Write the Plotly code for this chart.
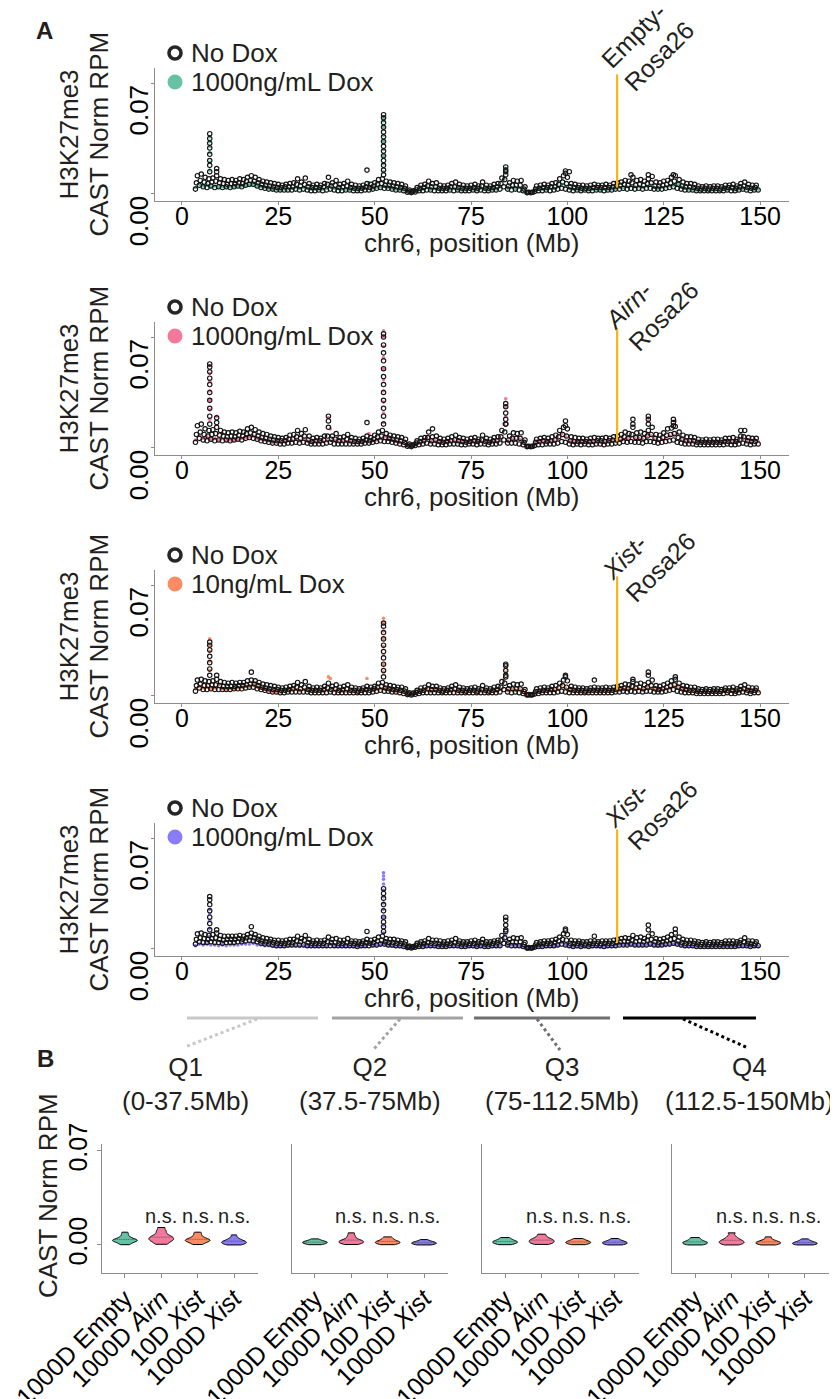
import numpy as np
import plotly.graph_objects as go

PAGE_W, PAGE_H = 838, 1399
OFF = 8  # browser body margin
W, H = PAGE_W - OFF, PAGE_H - OFF
FONT = "Liberation Sans, Arial, sans-serif"
TXT = "#231f20"

# ---------------- DATA (values in units of 1e-4 CAST Norm RPM) ----------------
# No Dox tracks: 0.5-Mb bins from 3.5 Mb, plus in-between bins (1-Mb step from 3.75 Mb)
ND_BIN_START, ND_BIN_STEP = 3.5, 0.5
ND_MID_START, ND_MID_STEP = 3.75, 1.0
# Dox tracks: 1-Mb bins from 3.5 to 149.5 Mb
TR_BIN_START, TR_BIN_STEP = 3.5, 1.0

ND_P1 = [
    30, 115, 55, 125, 45, 105, 40, 95, 50, 100,
    40, 115, 45, 95, 40, 90, 45, 85, 40, 90,
    45, 85, 50, 95, 45, 90, 55, 105, 60, 115,
    60, 105, 50, 90, 40, 80, 35, 75, 30, 70,
    30, 65, 25, 60, 25, 55, 25, 60, 25, 65,
    25, 70, 30, 95, 25, 75, 30, 100, 25, 65,
    20, 55, 20, 60, 25, 55, 20, 65, 25, 105,
    30, 70, 25, 85, 20, 60, 20, 65, 25, 80,
    25, 60, 20, 55, 20, 50, 20, 55, 25, 65,
    25, 60, 30, 70, 35, 90, 40, 95, 35, 80,
    35, 75, 30, 70, 25, 65, 25, 60, 20, 50,
    10, 25, 8, 20, 12, 40, 20, 55, 20, 60,
    25, 80, 25, 65, 20, 70, 20, 55, 20, 50,
    20, 55, 25, 65, 20, 75, 25, 60, 20, 55,
    20, 50, 20, 55, 25, 60, 20, 50, 25, 75,
    20, 55, 20, 50, 25, 60, 25, 65, 30, 100,
    45, 140, 30, 70, 25, 85, 30, 80, 25, 85,
    20, 45, 8, 10, 8, 10, 15, 50, 20, 55,
    20, 60, 25, 55, 20, 65, 25, 70, 30, 95,
    35, 115, 30, 105, 25, 65, 20, 60, 25, 55,
    20, 55, 25, 50, 20, 55, 20, 60, 25, 55,
    25, 55, 20, 60, 25, 55, 25, 65, 30, 70,
    30, 75, 35, 85, 30, 80, 35, 105, 30, 85,
    35, 90, 30, 80, 35, 95, 35, 110, 30, 75,
    30, 70, 30, 80, 35, 85, 40, 105, 45, 115,
    35, 90, 30, 75, 25, 65, 25, 65, 25, 60,
    20, 50, 20, 45, 20, 50, 20, 45, 20, 50,
    20, 50, 20, 45, 20, 55, 25, 55, 20, 60,
    20, 50, 25, 65, 30, 75, 25, 60, 20, 55,
    25, 55, 25,
]
ND_P2 = [
    35, 140, 60, 150, 50, 120, 45, 110, 55, 115,
    45, 130, 50, 110, 45, 100, 50, 95, 45, 100,
    50, 95, 55, 105, 50, 100, 60, 120, 65, 130,
    60, 115, 55, 100, 45, 90, 40, 85, 35, 75,
    30, 70, 30, 65, 25, 60, 25, 65, 30, 80,
    30, 85, 35, 110, 30, 90, 35, 115, 30, 75,
    25, 60, 25, 65, 25, 60, 25, 75, 30, 130,
    35, 75, 25, 90, 25, 65, 25, 70, 25, 85,
    25, 65, 25, 60, 25, 55, 25, 60, 30, 75,
    30, 65, 35, 80, 40, 100, 45, 110, 40, 90,
    40, 80, 35, 75, 30, 70, 25, 65, 20, 55,
    10, 25, 8, 20, 15, 45, 20, 60, 25, 65,
    30, 100, 25, 70, 25, 75, 20, 60, 20, 55,
    20, 60, 25, 70, 25, 80, 25, 65, 20, 60,
    20, 55, 25, 60, 25, 65, 20, 55, 25, 80,
    25, 60, 20, 55, 25, 65, 25, 70, 30, 110,
    50, 150, 30, 75, 30, 95, 30, 90, 25, 95,
    20, 50, 8, 10, 8, 10, 15, 55, 20, 60,
    20, 65, 25, 60, 25, 70, 25, 80, 30, 110,
    40, 130, 35, 120, 25, 70, 20, 65, 25, 60,
    20, 60, 25, 55, 20, 60, 20, 65, 25, 60,
    25, 60, 20, 65, 25, 60, 25, 70, 30, 75,
    30, 85, 40, 100, 35, 90, 40, 130, 35, 95,
    35, 100, 30, 90, 40, 110, 40, 130, 35, 85,
    30, 80, 35, 95, 40, 120, 45, 125, 50, 135,
    35, 100, 30, 80, 25, 70, 25, 70, 25, 65,
    20, 55, 20, 50, 20, 55, 20, 50, 20, 55,
    20, 55, 20, 50, 20, 60, 25, 60, 20, 65,
    20, 55, 25, 75, 30, 110, 25, 65, 20, 60,
    25, 60, 25,
]
ND_P3 = [
    30, 100, 50, 105, 40, 95, 40, 90, 45, 95,
    40, 105, 40, 90, 40, 85, 40, 80, 40, 85,
    45, 80, 45, 85, 45, 85, 50, 95, 55, 100,
    55, 95, 45, 85, 40, 75, 35, 70, 30, 65,
    25, 60, 25, 55, 20, 50, 20, 55, 25, 60,
    25, 65, 25, 85, 25, 70, 25, 90, 25, 60,
    20, 50, 20, 55, 20, 50, 20, 60, 20, 80,
    25, 60, 20, 70, 20, 55, 20, 60, 20, 70,
    20, 55, 20, 50, 20, 45, 20, 50, 20, 60,
    20, 55, 25, 60, 30, 80, 35, 85, 30, 70,
    30, 65, 25, 60, 25, 55, 20, 55, 15, 45,
    8, 20, 6, 18, 10, 35, 15, 50, 20, 55,
    20, 70, 20, 60, 20, 60, 20, 50, 20, 45,
    20, 50, 20, 60, 20, 70, 20, 55, 20, 50,
    20, 45, 20, 50, 20, 55, 20, 45, 20, 65,
    20, 50, 20, 45, 20, 55, 20, 60, 25, 90,
    40, 120, 25, 65, 20, 75, 25, 70, 20, 75,
    15, 40, 6, 8, 6, 8, 12, 45, 15, 50,
    20, 55, 20, 50, 20, 60, 20, 65, 25, 80,
    30, 100, 25, 95, 20, 60, 20, 55, 20, 50,
    20, 50, 20, 45, 20, 50, 20, 55, 20, 50,
    20, 50, 20, 55, 20, 50, 20, 55, 25, 60,
    25, 65, 30, 75, 25, 70, 30, 90, 25, 75,
    30, 80, 25, 70, 30, 85, 30, 100, 25, 65,
    25, 60, 25, 70, 30, 80, 35, 95, 40, 105,
    30, 80, 25, 65, 20, 60, 20, 55, 20, 55,
    15, 45, 15, 40, 15, 45, 15, 40, 15, 45,
    15, 45, 15, 40, 15, 50, 20, 50, 15, 55,
    15, 45, 20, 60, 25, 70, 20, 55, 15, 50,
    20, 50, 20,
]
ND_P4 = [
    30, 95, 45, 100, 40, 90, 40, 85, 45, 90,
    40, 100, 40, 85, 35, 80, 40, 80, 40, 80,
    40, 80, 45, 85, 45, 80, 50, 90, 55, 100,
    50, 90, 45, 80, 35, 70, 30, 65, 30, 60,
    25, 55, 20, 55, 20, 50, 20, 55, 25, 60,
    25, 60, 25, 80, 25, 65, 25, 85, 20, 60,
    20, 50, 20, 55, 20, 50, 20, 55, 20, 75,
    20, 60, 20, 65, 20, 55, 20, 55, 20, 65,
    20, 50, 20, 50, 15, 45, 20, 50, 20, 60,
    20, 55, 25, 60, 25, 75, 30, 80, 30, 65,
    25, 60, 25, 60, 20, 55, 20, 50, 15, 45,
    8, 18, 6, 15, 10, 35, 15, 45, 15, 50,
    20, 65, 20, 55, 20, 55, 15, 50, 15, 45,
    15, 50, 20, 55, 20, 65, 20, 50, 15, 45,
    15, 45, 20, 50, 20, 55, 15, 45, 20, 60,
    15, 45, 15, 45, 20, 50, 20, 55, 20, 85,
    35, 110, 25, 60, 20, 70, 20, 65, 20, 70,
    15, 40, 5, 8, 5, 8, 10, 40, 15, 45,
    15, 50, 20, 50, 20, 55, 20, 60, 25, 75,
    30, 95, 25, 90, 20, 55, 15, 50, 20, 50,
    15, 45, 20, 45, 15, 50, 20, 50, 20, 45,
    20, 50, 15, 50, 20, 50, 20, 55, 20, 60,
    25, 65, 25, 70, 25, 65, 30, 85, 25, 70,
    25, 75, 25, 65, 25, 80, 30, 95, 25, 65,
    25, 60, 25, 65, 30, 75, 30, 90, 35, 100,
    30, 75, 25, 60, 20, 55, 20, 55, 20, 50,
    15, 45, 15, 40, 15, 45, 15, 40, 15, 45,
    15, 45, 15, 40, 15, 50, 15, 50, 15, 50,
    15, 45, 20, 55, 20, 70, 20, 50, 15, 50,
    20, 45, 20,
]

# No Dox in-between bins (3.75, 4.75, ... Mb)
ND_MID_P1 = [
    70, 85, 75, 65, 75, 80, 70, 65, 60, 65,
    65, 70, 65, 80, 85, 80, 70, 60, 55, 50,
    45, 40, 40, 45, 45, 45, 60, 50, 60, 45,
    40, 40, 40, 45, 60, 50, 55, 40, 45, 50,
    40, 35, 35, 35, 45, 40, 50, 60, 65, 55,
    55, 50, 45, 40, 35, 18, 14, 25, 35, 40,
    50, 45, 45, 35, 35, 35, 45, 45, 40, 35,
    35, 35, 40, 35, 50, 35, 35, 40, 45, 65,
    90, 50, 55, 55, 55, 30, 9, 9, 30, 35,
    40, 40, 45, 45, 60, 75, 65, 45, 40, 40,
    35, 35, 35, 40, 40, 40, 40, 40, 45, 50,
    55, 60, 55, 70, 55, 60, 55, 65, 70, 50,
    50, 55, 60, 70, 80, 60, 50, 45, 45, 40,
    35, 30, 35, 30, 35, 35, 30, 35, 40, 40,
    35, 45, 50, 40, 35, 40,
]
ND_MID_P2 = [
    85, 100, 85, 75, 85, 90, 80, 75, 70, 75,
    70, 80, 75, 90, 95, 85, 75, 65, 60, 55,
    50, 45, 45, 45, 55, 55, 70, 60, 75, 50,
    40, 45, 45, 50, 75, 55, 55, 45, 45, 55,
    45, 40, 40, 40, 50, 45, 55, 70, 75, 65,
    60, 55, 50, 45, 35, 18, 14, 30, 40, 45,
    65, 45, 50, 40, 35, 40, 45, 50, 45, 40,
    35, 40, 45, 40, 50, 40, 35, 45, 45, 70,
    100, 50, 60, 60, 60, 35, 9, 9, 35, 40,
    45, 40, 45, 50, 70, 85, 75, 45, 40, 40,
    40, 40, 40, 40, 45, 45, 40, 45, 50, 50,
    55, 70, 60, 85, 65, 65, 60, 75, 85, 60,
    55, 65, 80, 85, 90, 65, 55, 45, 45, 45,
    35, 35, 35, 35, 35, 35, 35, 40, 40, 40,
    40, 50, 70, 45, 40, 40,
]
ND_MID_P3 = [
    65, 75, 65, 65, 70, 70, 65, 60, 60, 60,
    60, 65, 65, 70, 75, 75, 65, 55, 50, 45,
    40, 40, 35, 35, 40, 45, 55, 45, 55, 40,
    35, 35, 35, 40, 50, 40, 45, 35, 40, 45,
    35, 35, 30, 35, 40, 35, 45, 55, 60, 50,
    45, 40, 40, 35, 30, 14, 12, 22, 30, 35,
    45, 40, 40, 35, 30, 35, 40, 45, 35, 35,
    30, 35, 35, 30, 40, 35, 30, 35, 40, 55,
    80, 45, 45, 45, 45, 28, 7, 7, 28, 30,
    35, 35, 40, 40, 50, 65, 55, 40, 35, 35,
    35, 30, 35, 35, 35, 35, 35, 35, 35, 40,
    45, 50, 45, 60, 50, 55, 45, 55, 65, 45,
    40, 45, 55, 65, 70, 55, 45, 40, 35, 35,
    30, 28, 30, 28, 30, 30, 28, 35, 32, 35,
    30, 40, 45, 35, 30, 35,
]
ND_MID_P4 = [
    60, 70, 65, 60, 65, 70, 60, 55, 60, 60,
    60, 65, 60, 70, 75, 70, 60, 50, 45, 45,
    40, 35, 35, 35, 40, 40, 50, 45, 55, 40,
    35, 35, 35, 35, 45, 40, 40, 35, 35, 40,
    35, 35, 30, 35, 40, 35, 40, 50, 55, 45,
    40, 40, 35, 35, 30, 13, 10, 22, 30, 32,
    40, 35, 35, 30, 30, 30, 35, 40, 35, 30,
    30, 33, 35, 30, 40, 30, 30, 35, 38, 55,
    70, 40, 45, 42, 45, 28, 6, 6, 25, 30,
    32, 35, 35, 40, 50, 60, 55, 35, 32, 35,
    30, 30, 30, 35, 32, 33, 35, 35, 35, 40,
    45, 48, 45, 55, 45, 50, 45, 55, 60, 45,
    40, 45, 50, 60, 65, 50, 40, 35, 35, 35,
    30, 28, 30, 28, 30, 30, 28, 32, 32, 32,
    30, 38, 45, 35, 30, 32,
]

TR_P1 = [
    40, 60, 50, 55, 45, 50, 40, 45, 40, 45,
    45, 50, 50, 55, 55, 60, 50, 45, 40, 35,
    30, 30, 25, 30, 30, 35, 40, 35, 40, 35,
    30, 30, 30, 30, 35, 60, 35, 40, 30, 30,
    30, 30, 25, 30, 35, 70, 35, 40, 45, 50,
    40, 35, 30, 30, 25, 15, 12, 20, 25, 30,
    40, 30, 35, 30, 25, 30, 30, 35, 30, 25,
    25, 30, 30, 25, 35, 30, 25, 30, 30, 45,
    90, 35, 40, 35, 40, 25, 10, 10, 25, 30,
    30, 30, 35, 35, 45, 60, 50, 35, 30, 30,
    25, 30, 25, 30, 30, 25, 30, 30, 30, 35,
    40, 40, 45, 50, 45, 45, 40, 50, 55, 40,
    35, 40, 45, 50, 55, 60, 45, 35, 30, 30,
    25, 25, 25, 25, 25, 25, 25, 30, 30, 30,
    25, 30, 35, 35, 30, 30, 30,
]
TR_P2 = [
    50, 80, 60, 70, 55, 60, 50, 90, 45, 50,
    50, 55, 60, 65, 70, 75, 60, 55, 50, 45,
    35, 40, 35, 40, 45, 50, 55, 45, 60, 45,
    35, 40, 35, 40, 45, 120, 50, 55, 45, 40,
    40, 35, 35, 40, 45, 90, 45, 50, 60, 70,
    55, 50, 40, 35, 30, 15, 12, 25, 30, 40,
    60, 40, 45, 40, 35, 40, 40, 45, 40, 35,
    35, 40, 40, 35, 45, 40, 35, 40, 40, 60,
    150, 45, 55, 50, 55, 35, 10, 10, 30, 40,
    40, 40, 45, 45, 60, 90, 70, 45, 40, 40,
    35, 40, 35, 40, 40, 35, 40, 40, 40, 45,
    50, 55, 60, 70, 60, 60, 55, 70, 80, 55,
    45, 55, 60, 75, 80, 90, 60, 45, 40, 40,
    35, 35, 35, 35, 35, 35, 35, 40, 40, 45,
    35, 45, 60, 50, 40, 55, 40,
]
TR_P3 = [
    45, 60, 50, 55, 45, 50, 70, 45, 40, 45,
    45, 50, 55, 60, 60, 70, 55, 50, 40, 35,
    30, 30, 25, 30, 35, 40, 40, 35, 40, 35,
    30, 30, 30, 30, 35, 110, 35, 40, 30, 30,
    30, 30, 25, 30, 35, 50, 35, 40, 45, 50,
    40, 35, 30, 30, 25, 15, 12, 20, 25, 30,
    45, 30, 35, 30, 25, 30, 30, 35, 30, 25,
    25, 30, 35, 25, 35, 30, 25, 30, 30, 40,
    100, 35, 45, 35, 40, 25, 8, 8, 25, 30,
    30, 30, 35, 35, 45, 70, 50, 35, 30, 30,
    25, 30, 25, 30, 30, 25, 30, 30, 30, 35,
    40, 45, 45, 50, 45, 45, 40, 55, 50, 40,
    35, 40, 45, 50, 60, 60, 45, 35, 30, 30,
    25, 25, 25, 25, 25, 25, 25, 30, 30, 30,
    25, 30, 40, 35, 30, 30, 30,
]
TR_P4 = [
    20, 30, 25, 30, 25, 25, 20, 25, 20, 25,
    25, 25, 30, 30, 30, 35, 25, 25, 20, 20,
    15, 15, 15, 15, 15, 20, 20, 15, 20, 15,
    15, 15, 15, 15, 15, 30, 15, 15, 15, 15,
    15, 15, 15, 15, 20, 30, 20, 20, 25, 30,
    20, 15, 15, 15, 10, 5, 5, 10, 10, 15,
    20, 15, 15, 15, 10, 15, 15, 15, 15, 10,
    10, 15, 15, 10, 15, 15, 10, 15, 15, 20,
    60, 20, 25, 20, 20, 10, 5, 5, 10, 15,
    15, 15, 15, 15, 20, 40, 25, 15, 15, 15,
    10, 15, 10, 15, 15, 10, 15, 15, 15, 20,
    30, 25, 25, 25, 20, 20, 20, 25, 25, 20,
    15, 20, 20, 25, 30, 30, 20, 15, 15, 15,
    10, 10, 10, 10, 10, 10, 10, 15, 15, 15,
    10, 15, 20, 20, 15, 15, 15,
]

# extra points in enriched columns: (position Mb, [values 1e-4])
ND_COLS_P1 = [(7.2, [140, 180, 210, 250, 290, 320, 350, 380]),
              (52.3, [120, 150, 180, 210, 240, 270, 300, 330, 360, 390, 420, 450, 480, 500]),
              (84.0, [120, 150, 170]), (99.5, [130, 145]), (100.5, [140]), (116.5, [120]),
              (121.0, [120]), (127.5, [120]), (9.0, [140, 160]), (48.0, [150])]
TR_COLS_P1 = [(7.2, [150, 200, 260, 300, 330, 360]),
              (52.3, [140, 190, 240, 280, 330, 370, 420, 460, 480]),
              (84.0, [140, 160])]
ND_COLS_P2 = [(7.2, [150, 200, 250, 300, 350, 400, 440, 480, 510, 530]),
              (52.3, [150, 200, 250, 300, 350, 400, 450, 500, 550, 600, 650, 700, 720]),
              (84.0, [150, 180, 220, 260, 280]), (9.0, [160, 190]), (38.0, [170, 200]),
              (48.0, [160]), (65.0, [120]), (99.5, [140, 170]), (117.0, [150, 180]),
              (121.0, [150, 180, 200]), (127.5, [140, 160, 180]), (145.0, [110])]
TR_COLS_P2 = [(7.2, [180, 240, 300, 360, 420, 470, 520]),
              (52.3, [160, 220, 290, 360, 430, 500, 570, 640, 700, 740]),
              (84.0, [200, 260, 310]), (9.0, [200]), (38.0, [190]), (121.0, [170]), (128.0, [170])]
ND_COLS_P3 = [(7.2, [130, 170, 210, 250, 290, 320, 340]),
              (52.3, [120, 160, 200, 240, 280, 320, 360, 400, 440, 460]),
              (9.0, [130]), (18.0, [150]), (84.0, [130, 160, 190, 200]), (99.5, [120, 130]),
              (121.0, [130, 150]), (128.0, [120]), (107.0, [100]), (117.0, [105])]
TR_COLS_P3 = [(7.2, [160, 220, 280, 320, 360]),
              (52.3, [150, 200, 260, 310, 360, 410, 460, 490]),
              (38.0, [120]), (84.0, [150]), (48.0, [110])]
ND_COLS_P4 = [(7.2, [120, 160, 200, 240, 280, 310, 330]),
              (52.3, [110, 140, 170, 200, 240, 280, 320, 350, 380]),
              (84.0, [120, 150, 180, 200]), (9.0, [120]), (18.0, [140]), (48.0, [110]),
              (99.5, [115, 125]), (121.0, [120, 150]), (128.0, [125]), (107.0, [80])]
TR_COLS_P4 = [(7.2, [80, 130, 180, 220, 250]),
              (52.3, [100, 150, 200, 250, 290, 330, 370, 410, 440, 460, 480]),
              (84.0, [90, 130])]

TRT_LABELS = ["1000ng/mL Dox", "1000ng/mL Dox", "10ng/mL Dox", "1000ng/mL Dox"]
INSERT_LABELS = ["Empty-<br>Rosa26", "<i>Airn</i>-<br>Rosa26", "<i>Xist</i>-<br>Rosa26", "<i>Xist</i>-<br>Rosa26"]
INSERT_MB = 112.9
INSERT_RANGE = [0.004, 0.0755]
X_TICKS = [0, 25, 50, 75, 100, 125, 150]

# Violin panel (units 1e-4), per quarter: [1000D Empty, 1000D Airn, 10D Xist, 1000D Xist]
VIOLIN_CATS = ["1000D Empty", "1000D <i>Airn</i>", "10D <i>Xist</i>", "1000D <i>Xist</i>"]
Q_LABELS = ["Q1<br>(0-37.5Mb)", "Q2<br>(37.5-75Mb)", "Q3<br>(75-112.5Mb)", "Q4<br>(112.5-150Mb)"]
Q1_VALS = [[2, 10, 18, 24, 28, 32, 35, 38, 42, 48, 55, 65, 80, 95],
           [5, 15, 25, 32, 38, 44, 50, 56, 62, 70, 80, 95, 110, 130],
           [3, 12, 20, 26, 30, 34, 38, 42, 48, 55, 65, 80, 95],
           [0, 5, 10, 14, 18, 22, 26, 30, 36, 44, 55, 75]]
Q2_VALS = [[2, 8, 12, 15, 18, 21, 24, 28, 34, 45],
           [3, 10, 16, 20, 25, 30, 35, 42, 55, 70, 90],
           [2, 8, 13, 17, 21, 25, 30, 38, 48, 60],
           [0, 5, 9, 12, 15, 18, 22, 28, 40]]
Q3_VALS = [[2, 9, 14, 18, 22, 26, 30, 36, 45, 55],
           [4, 12, 18, 24, 30, 36, 42, 50, 62, 80],
           [2, 8, 13, 17, 21, 25, 30, 38, 48],
           [0, 6, 10, 14, 18, 22, 27, 35, 48]]
Q4_VALS = [[0, 5, 10, 14, 18, 22, 27, 34, 45, 55],
           [0, 8, 14, 20, 26, 32, 40, 50, 65, 90],
           [0, 6, 11, 15, 19, 24, 30, 40, 60],
           [0, 4, 8, 11, 14, 18, 24, 32, 45]]
NS_LABEL = "n.s."

COLORS = ["#66c2a5", "#f4789c", "#fc8a62", "#8a7cf8"]
UNIT = 1e-4

# ---------------- LAYOUT HELPERS (page pixel -> paper fraction) ----------------
def fx(p):
    return (p - OFF) / W

def fy(p):
    return 1 - (p - OFF) / H

AX_GREY = "#8c8c8c"
fig = go.Figure()
annotations = []
shapes = []
layout = dict(width=W, height=H, margin=dict(l=0, r=0, t=0, b=0, pad=0, autoexpand=False),
              autosize=False, paper_bgcolor="white", plot_bgcolor="white", showlegend=False,
              font=dict(family=FONT, color=TXT, size=25))

PANEL_TOPS = [68, 322, 570, 823]
PANEL_H = 133
X_L, X_R = 155, 789
Y_RANGE = [-0.0045, 0.0795]

nd_all = [ND_P1, ND_P2, ND_P3, ND_P4]
ndm_all = [ND_MID_P1, ND_MID_P2, ND_MID_P3, ND_MID_P4]
tr_all = [TR_P1, TR_P2, TR_P3, TR_P4]
ndc_all = [ND_COLS_P1, ND_COLS_P2, ND_COLS_P3, ND_COLS_P4]
trc_all = [TR_COLS_P1, TR_COLS_P2, TR_COLS_P3, TR_COLS_P4]
ins_centers = [(648, 45), (651, 305), (648, 556), (650, 804)]


def binned(base, start, step):
    return [start + i * step for i in range(len(base))], [v * UNIT for v in base]


def columns(cols):
    xs, ys = [], []
    for cx, vals in cols:
        xs += [cx] * len(vals)
        ys += [v * UNIT for v in vals]
    return xs, ys


for k in range(4):
    i = k + 1
    top = PANEL_TOPS[k]
    bot = top + PANEL_H
    xt, yt = binned(tr_all[k], TR_BIN_START, TR_BIN_STEP)
    xc, yc = columns(trc_all[k])
    xs_t, ys_t = xt + xc, yt + yc
    xn, yn = binned(nd_all[k], ND_BIN_START, ND_BIN_STEP)
    xm, ym = binned(ndm_all[k], ND_MID_START, ND_MID_STEP)
    xc, yc = columns(ndc_all[k])
    xs_n, ys_n = xn + xm + xc, yn + ym + yc
    fig.add_trace(go.Scatter(x=xs_t, y=ys_t, mode="markers", xaxis=f"x{i}", yaxis=f"y{i}",
                             marker=dict(color=COLORS[k], size=3.6, line=dict(width=0)),
                             hoverinfo="skip"))
    fig.add_trace(go.Scatter(x=xs_n, y=ys_n, mode="markers", xaxis=f"x{i}", yaxis=f"y{i}",
                             marker=dict(symbol="circle-open", color="#141414", size=4.4,
                                         line=dict(width=1.15, color="#141414")),
                             hoverinfo="skip"))
    sfx = "" if i == 1 else str(i)
    layout[f"xaxis{sfx}"] = dict(domain=[fx(X_L), fx(X_R)], range=[-7, 157.5], anchor=f"y{i}",
                                 showline=True, linecolor=AX_GREY, linewidth=1, ticks="outside",
                                 ticklen=3, tickcolor=AX_GREY, tickvals=X_TICKS,
                                 ticklabelstandoff=-10,
                                 tickfont=dict(size=25, color="black", family=FONT),
                                 showgrid=False, zeroline=False, automargin=False)
    layout[f"yaxis{sfx}"] = dict(domain=[fy(bot), fy(top)], range=Y_RANGE, anchor=f"x{i}",
                                 showline=True, linecolor=AX_GREY, linewidth=1, ticks="outside",
                                 ticklen=3, tickcolor=AX_GREY, tickvals=[0, 0.07],
                                 showticklabels=False, showgrid=False, zeroline=False,
                                 automargin=False)
    # y tick labels (rotated, ending at tick)
    for val, txt in [(0.0, "0.00"), (0.07, "0.07")]:
        annotations.append(dict(x=fx(139), y=val, xref="paper", yref=f"y{i}", text=txt,
                                textangle=-90, showarrow=False, xanchor="center", yanchor="top",
                                font=dict(size=26, color="black")))
    # y title two lines
    annotations.append(dict(x=fx(68), y=fy(top + PANEL_H / 2), xref="paper", yref="paper",
                            text="H3K27me3", textangle=-90, showarrow=False,
                            xanchor="center", yanchor="middle", font=dict(size=26, color=TXT)))
    annotations.append(dict(x=fx(98), y=fy(top + PANEL_H / 2), xref="paper", yref="paper",
                            text="CAST Norm RPM", textangle=-90, showarrow=False,
                            xanchor="center", yanchor="middle", font=dict(size=26, color=TXT)))
    # x title
    annotations.append(dict(x=fx((182 + 760) / 2), y=fy(bot + 42), xref="paper", yref="paper",
                            text="chr6, position (Mb)", showarrow=False,
                            xanchor="center", yanchor="middle", font=dict(size=26, color=TXT)))
    # insertion line and label
    shapes.append(dict(type="line", xref=f"x{i}", yref=f"y{i}", x0=INSERT_MB, x1=INSERT_MB,
                       y0=INSERT_RANGE[0], y1=INSERT_RANGE[1],
                       line=dict(color="#fbb416", width=2.2)))
    cx, cy = ins_centers[k]
    annotations.append(dict(x=fx(cx), y=fy(cy), xref="paper", yref="paper",
                            text=INSERT_LABELS[k], textangle=-45, align="left", showarrow=False,
                            xanchor="center", yanchor="middle", font=dict(size=25, color=TXT)))
    # legend
    shapes.append(dict(type="circle", xref="paper", yref="paper", xsizemode="pixel",
                       ysizemode="pixel", xanchor=fx(175), yanchor=fy(top - 15),
                       x0=-6, x1=6, y0=-6, y1=6, fillcolor="white",
                       line=dict(color="#262626", width=3.6)))
    shapes.append(dict(type="circle", xref="paper", yref="paper", xsizemode="pixel",
                       ysizemode="pixel", xanchor=fx(175), yanchor=fy(top + 14),
                       x0=-7.5, x1=7.5, y0=-7.5, y1=7.5, fillcolor=COLORS[k],
                       line=dict(width=0)))
    annotations.append(dict(x=fx(189), y=fy(top - 15), xref="paper", yref="paper",
                            text="No Dox", showarrow=False, xanchor="left", yanchor="middle",
                            font=dict(size=26, color=TXT)))
    annotations.append(dict(x=fx(189), y=fy(top + 14), xref="paper", yref="paper",
                            text=TRT_LABELS[k], showarrow=False, xanchor="left", yanchor="middle",
                            font=dict(size=26, color=TXT)))

# ---------------- Panel B: violins ----------------
V_X = [(102, 258), (292, 448), (482, 639), (672, 829)]
V_TOP, V_BOT = 1144, 1273
q_vals = [Q1_VALS, Q2_VALS, Q3_VALS, Q4_VALS]
for q in range(4):
    i = 5 + q
    for c in range(4):
        vals = [v * UNIT for v in q_vals[q][c]]
        fig.add_trace(go.Violin(x=[c] * len(vals), y=vals, xaxis=f"x{i}", yaxis=f"y{i}",
                                fillcolor=COLORS[c], line=dict(color="black", width=1),
                                opacity=1, points=False, spanmode="hard", bandwidth=0.0009,
                                width=0.68, scalemode="width",
                                meanline=dict(visible=True, color="#444", width=0.6),
                                hoverinfo="skip"))
    layout[f"xaxis{i}"] = dict(domain=[fx(V_X[q][0]), fx(V_X[q][1])], range=[-0.63, 3.66],
                               anchor=f"y{i}", showline=True, linecolor=AX_GREY, linewidth=1,
                               ticks="outside", ticklen=4, tickcolor=AX_GREY,
                               tickvals=[0, 1, 2, 3], ticktext=VIOLIN_CATS, tickangle=-45,
                               ticklabelstandoff=-4,
                               tickfont=dict(size=25, color="black"), showgrid=False,
                               zeroline=False, automargin=False)
    layout[f"yaxis{i}"] = dict(domain=[fy(V_BOT), fy(V_TOP)], range=[-0.0209, 0.0752],
                               anchor=f"x{i}", showline=True, linecolor=AX_GREY, linewidth=1,
                               ticks="outside" if q == 0 else "", ticklen=4, tickcolor=AX_GREY,
                               tickvals=[0, 0.07], ticktext=["0.00", "0.07"], tickangle=-90,
                               showticklabels=(q == 0), tickfont=dict(size=25, color="black"),
                               showgrid=False, zeroline=False, automargin=False)
    for c in (1, 2, 3):
        annotations.append(dict(x=c, y=0.0216, xref=f"x{i}", yref=f"y{i}", text=NS_LABEL,
                                showarrow=False, xanchor="center", yanchor="middle",
                                font=dict(size=20, color=TXT)))

# quarter labels
q_centers = [185, 370, 562, 749]
for q in range(4):
    annotations.append(dict(x=fx(q_centers[q]), y=fy(1084), xref="paper", yref="paper",
                            text=Q_LABELS[q], showarrow=False, xanchor="center", yanchor="middle",
                            font=dict(size=26, color=TXT)))

# quarter bars + dotted connectors
q_lines = [((187, 318), (257, 185, 1047), "#c8c8c8"),
           ((332, 463), (400, 373, 1050), "#a3a3a3"),
           ((474, 610), (537, 560, 1050), "#6f6f6f"),
           ((623, 756), (683, 748, 1048), "#000000")]
for (a, b), (d0, d1, dy), col in q_lines:
    shapes.append(dict(type="line", xref="paper", yref="paper", x0=fx(a), x1=fx(b),
                       y0=fy(1018), y1=fy(1018), line=dict(color=col, width=3)))
    shapes.append(dict(type="line", xref="paper", yref="paper", x0=fx(d0), x1=fx(d1),
                       y0=fy(1019), y1=fy(dy), line=dict(color=col, width=3, dash="dot")))

annotations.append(dict(x=fx(48), y=fy(1196), xref="paper", yref="paper", text="CAST Norm RPM",
                        textangle=-90, showarrow=False, xanchor="center", yanchor="middle",
                        font=dict(size=26, color=TXT)))
# panel letters
annotations.append(dict(x=fx(44), y=fy(31), xref="paper", yref="paper", text="<b>A</b>",
                        showarrow=False, xanchor="center", yanchor="middle",
                        font=dict(size=24, color=TXT)))
annotations.append(dict(x=fx(45), y=fy(1058), xref="paper", yref="paper", text="<b>B</b>",
                        showarrow=False, xanchor="center", yanchor="middle",
                        font=dict(size=24, color=TXT)))

layout["annotations"] = annotations
layout["shapes"] = shapes
fig.update_layout(**layout)
fig.write_html("out.html")
